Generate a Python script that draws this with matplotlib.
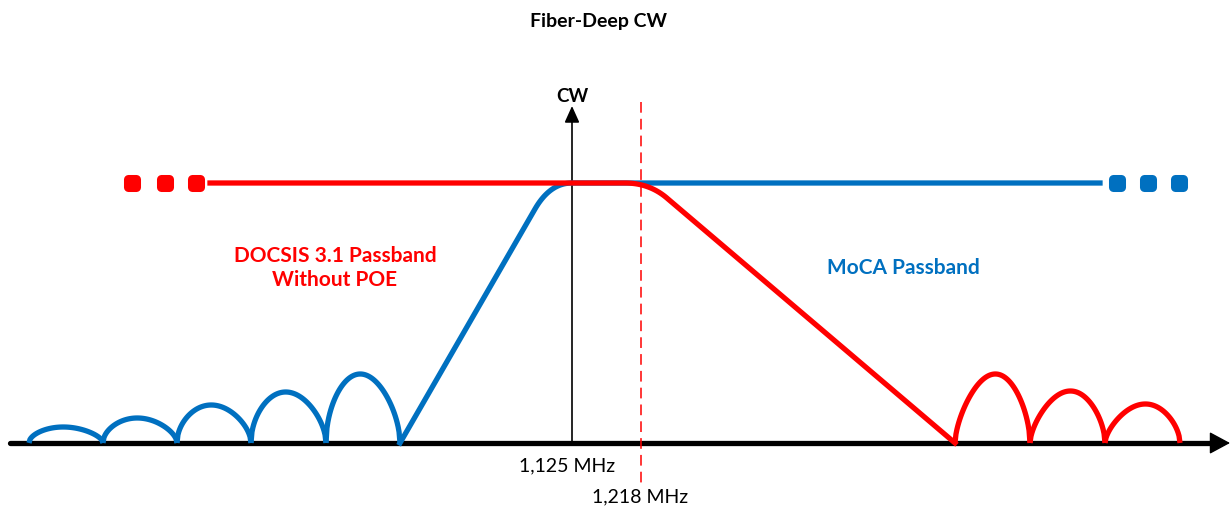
import numpy as np
import matplotlib.pyplot as plt
from matplotlib.markers import MarkerStyle

BLUE = "#0070C0"
RED = "#FF0000"

# Diagram in pixel-like units (x to the right, y downwards)
base_y = 444
flat_y = 184
axis_x = 572          # 1,125 MHz
cut_x = 641           # 1,218 MHz

# Blue side lobes (DOCSIS side): edges and peak heights
blue_edges = [29, 103, 177, 251, 326, 400]
blue_peaks = [428, 419, 406, 393, 375]
# Blue rise to the passband
blue_rise_x = [400, 535, 550, 572, 1100]
blue_rise_y = [444, 210, 184, 184, 184]
blue_dots_x = [1117, 1148, 1179]

# Red roll-off and side lobes (MoCA side)
red_fall_x = [210, 625, 650, 668, 955]
red_fall_y = [184, 184, 184, 200, 444]
red_edges = [955, 1030, 1105, 1180]
red_peaks = [375, 392, 405]
red_dots_x = [132, 165, 196]


def lobe(a, b, top, skew):
    t = np.linspace(0, 1, 80)
    s = t ** skew
    h = np.sin(np.pi * s) ** 0.55
    return a + (b - a) * t, base_y - (base_y - top) * h


def rounded(x0, y0, xc, yc, x1, y1):
    t = np.linspace(0, 1, 30)
    x = (1 - t) ** 2 * x0 + 2 * (1 - t) * t * xc + t ** 2 * x1
    y = (1 - t) ** 2 * y0 + 2 * (1 - t) * t * yc + t ** 2 * y1
    return x, y


fig = plt.figure(figsize=(12.31, 5.10), dpi=100)
ax = fig.add_axes([0, 0, 1, 1])
ax.set_xlim(0, 1231)
ax.set_ylim(510, 0)
ax.axis("off")

lw = 3.8

# x axis with arrow
ax.plot([10, 1215], [base_y, base_y], color="black", lw=lw, solid_capstyle="round", zorder=1)
ax.annotate("", xy=(1230, base_y), xytext=(1200, base_y),
            arrowprops=dict(arrowstyle="-|>,head_length=13,head_width=7", mutation_scale=1,
                            color="black", lw=1, shrinkA=0, shrinkB=0), zorder=1)
# y axis with arrow
ax.annotate("", xy=(axis_x, 107), xytext=(axis_x, base_y),
            arrowprops=dict(arrowstyle="-|>,head_length=10,head_width=4.5", mutation_scale=1,
                            color="black", lw=1.2, shrinkA=0, shrinkB=0), zorder=2)
ax.text(axis_x, 96, "CW", ha="center", va="center", fontsize=13.5, fontweight="bold",
        family="Lato")

# dashed cut-off line
ax.plot([cut_x, cut_x], [103, 486], color=RED, lw=1.1, dashes=(7, 4), zorder=2)

# blue lobes
for a, b, p in zip(blue_edges[:-1], blue_edges[1:], blue_peaks):
    x, y = lobe(a, b, p, 0.9)
    ax.plot(x, y, color=BLUE, lw=lw, solid_capstyle="butt", zorder=3)

# blue rise
bx0, by0 = blue_rise_x[0], blue_rise_y[0]
cx, cy = rounded(blue_rise_x[1], blue_rise_y[1], blue_rise_x[2], blue_rise_y[2],
                 blue_rise_x[3], blue_rise_y[3])
bx = np.concatenate([[bx0], cx, [blue_rise_x[4]]])
by = np.concatenate([[by0], cy, [blue_rise_y[4]]])
ax.plot(bx, by, color=BLUE, lw=lw, solid_joinstyle="round", zorder=3)

# red fall
rx_c, ry_c = rounded(red_fall_x[1], red_fall_y[1], red_fall_x[2], red_fall_y[2],
                     red_fall_x[3], red_fall_y[3])
rx = np.concatenate([[red_fall_x[0]], rx_c, [red_fall_x[4]]])
ry = np.concatenate([[red_fall_y[0]], ry_c, [red_fall_y[4]]])
ax.plot(rx, ry, color=RED, lw=lw, solid_joinstyle="round", zorder=4)

# red lobes
for a, b, p in zip(red_edges[:-1], red_edges[1:], red_peaks):
    x, y = lobe(a, b, p, 1.12)
    ax.plot(x, y, color=RED, lw=lw, solid_capstyle="butt", zorder=3)

# dots (rounded squares)
sq = MarkerStyle("s", joinstyle="round")
ax.plot(red_dots_x, [flat_y] * 3, ls="none", marker=sq, ms=5.8, mew=6.5,
        color=RED, mec=RED, zorder=4)
ax.plot(blue_dots_x, [flat_y] * 3, ls="none", marker=sq, ms=5.8, mew=6.5,
        color=BLUE, mec=BLUE, zorder=4)

# texts
ax.text(598, 22, "Fiber-Deep CW", ha="center", va="center", fontsize=14,
        fontweight="bold", family="Lato")
ax.text(335, 268, "DOCSIS 3.1 Passband\nWithout POE", ha="center", va="center",
        fontsize=15, fontweight="bold", color=RED, family="Lato", linespacing=1.2)
ax.text(903, 268, "MoCA Passband", ha="center", va="center", fontsize=15,
        fontweight="bold", color=BLUE, family="Lato")
ax.text(567, 466, "1,125 MHz", ha="center", va="center", fontsize=14, family="Lato")
ax.text(640, 497, "1,218 MHz", ha="center", va="center", fontsize=14, family="Lato")

fig.savefig("out.png", dpi=100)
